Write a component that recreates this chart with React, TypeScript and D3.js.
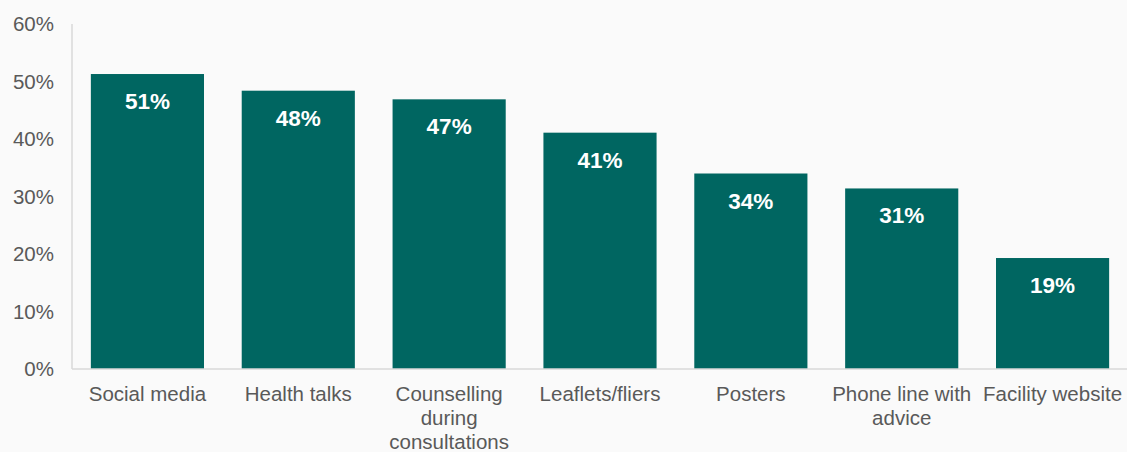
import React from "react";
import * as d3 from "d3";

const categories = ["Social media", "Health talks", "Counselling during consultations", "Leaflets/fliers", "Posters", "Phone line with advice", "Facility website"];
const labelLines = [["Social media"], ["Health talks"], ["Counselling", "during", "consultations"], ["Leaflets/fliers"], ["Posters"], ["Phone line with", "advice"], ["Facility website"]];
const values = [51.3, 48.4, 46.9, 41.1, 34.0, 31.4, 19.3];
const yTicks = [0, 10, 20, 30, 40, 50, 60];

const W = 1127, H = 452;
const left = 72, right = 1128, top = 24, bottom = 369;

export default function App() {
  const x = d3.scaleBand().domain(categories).range([left, right]).paddingInner(0.25).paddingOuter(0.125);
  const y = d3.scaleLinear().domain([0, 60]).range([bottom, top]);
  const font = "'Liberation Sans', Arial, sans-serif";
  return (
    <svg width={W} height={H} style={{ position: "absolute", left: 0, top: 0, background: "#fafafa" }} fontFamily={font}>
      <rect x={0} y={0} width={W} height={H} fill="#fafafa" />
      {values.map((v, i) => (
        <g key={i}>
          <rect x={x(categories[i])} y={y(v)} width={x.bandwidth()} height={y(0) - y(v)} fill="#006661" />
          <text x={x(categories[i])! + x.bandwidth() / 2} y={y(v) + 35} textAnchor="middle" fill="#ffffff" fontWeight="bold" fontSize={22.5}>
            {Math.round(v)}%
          </text>
        </g>
      ))}
      <line x1={left} x2={left} y1={top} y2={bottom} stroke="#d9d9d9" strokeWidth={1.5} />
      <line x1={left} x2={W} y1={bottom} y2={bottom} stroke="#d9d9d9" strokeWidth={1.5} />
      {yTicks.map((t) => (
        <text key={t} x={54} y={y(t) + 7.3} textAnchor="end" fill="#595959" fontSize={20.5}>
          {t}%
        </text>
      ))}
      {labelLines.map((lines, i) => (
        <text key={i} x={x(categories[i])! + x.bandwidth() / 2} textAnchor="middle" fill="#595959" fontSize={20.5}>
          {lines.map((l, j) => (
            <tspan key={j} x={x(categories[i])! + x.bandwidth() / 2} y={401 + j * 24}>{l}</tspan>
          ))}
        </text>
      ))}
    </svg>
  );
}
